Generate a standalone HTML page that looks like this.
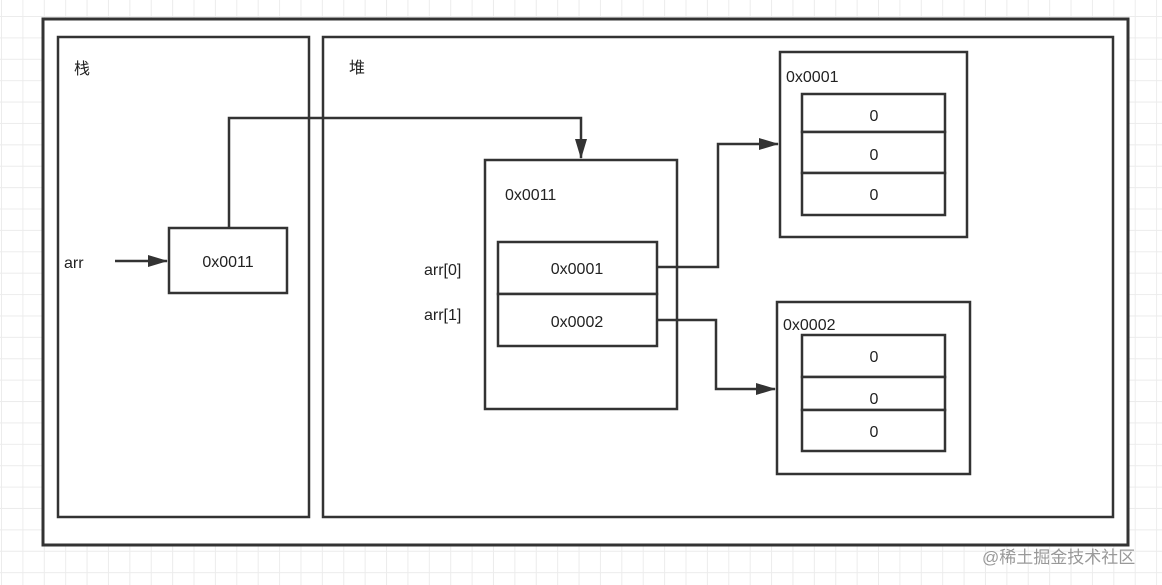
<!DOCTYPE html>
<html><head><meta charset="utf-8"><style>
html,body{margin:0;padding:0;background:#fff;}
body{width:1162px;height:585px;overflow:hidden;
background-image:linear-gradient(#ececec 1px,transparent 1px),linear-gradient(90deg,#ececec 1px,transparent 1px);
background-size:21.4px 21.4px;background-position:1px 16px;}
svg{position:absolute;left:0;top:0;}
text{font-family:"Liberation Sans","Noto Sans CJK SC",sans-serif;font-size:16px;fill:#222;}
</style></head><body>
<svg width="1162" height="585" viewBox="0 0 1162 585">
<defs><marker id="a" markerWidth="10" markerHeight="10" refX="9" refY="5" orient="auto" markerUnits="userSpaceOnUse"><path d="M0,0 L10,5 L0,10 z" fill="#333"/></marker>
<marker id="b" markerWidth="20" markerHeight="12" refX="19" refY="6" orient="auto" markerUnits="userSpaceOnUse"><path d="M0,0 L20,6 L0,12 z" fill="#333"/></marker></defs>
<g fill="#fff" stroke="#333" stroke-width="2.5">
<rect x="43" y="19" width="1085" height="526" stroke-width="3"/>
<rect x="58" y="37" width="251" height="480"/>
<rect x="323" y="37" width="790" height="480"/>
<rect x="169" y="228" width="118" height="65"/>
<rect x="485" y="160" width="192" height="249"/>
<rect x="498" y="242" width="159" height="52"/>
<rect x="498" y="294" width="159" height="52"/>
<rect x="780" y="52" width="187" height="185"/>
<rect x="802" y="94" width="143" height="38"/>
<rect x="802" y="132" width="143" height="41"/>
<rect x="802" y="173" width="143" height="42"/>
<rect x="777" y="302" width="193" height="172"/>
<rect x="802" y="335" width="143" height="42"/>
<rect x="802" y="377" width="143" height="33"/>
<rect x="802" y="410" width="143" height="41"/>
</g>
<g fill="none" stroke="#333" stroke-width="2.5">
<path d="M115,261 H167" marker-end="url(#b)"/>
<path d="M229,228 V118 H581 V158" marker-end="url(#b)"/>
<path d="M657,267 H718 V144 H778" marker-end="url(#b)"/>
<path d="M657,320 H716 V389 H775" marker-end="url(#b)"/>
</g>
<text x="74" y="74">栈</text>
<text x="349" y="73">堆</text>
<text x="64" y="268">arr</text>
<text x="228" y="267" text-anchor="middle">0x0011</text>
<text x="505" y="200">0x0011</text>
<text x="424" y="275">arr[0]</text>
<text x="424" y="320">arr[1]</text>
<text x="577" y="274" text-anchor="middle">0x0001</text>
<text x="577" y="327" text-anchor="middle">0x0002</text>
<text x="786" y="82">0x0001</text>
<text x="783" y="330">0x0002</text>
<g text-anchor="middle">
<text x="874" y="121">0</text><text x="874" y="160">0</text><text x="874" y="200">0</text>
<text x="874" y="362">0</text><text x="874" y="404">0</text><text x="874" y="437">0</text>
</g>
<text x="982" y="563" style="fill:#999;font-size:17px">@稀土掘金技术社区</text>
</svg>
</body></html>
